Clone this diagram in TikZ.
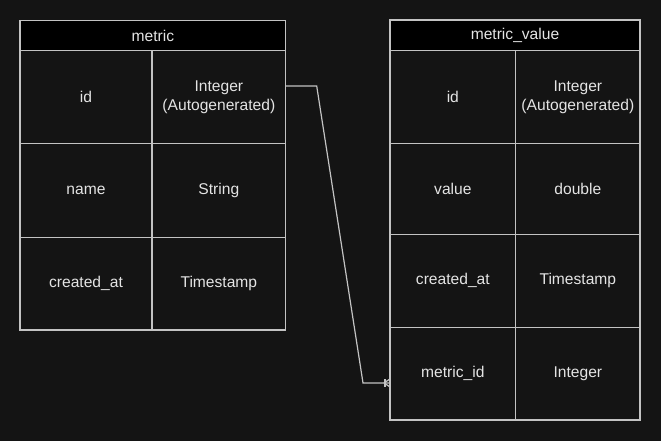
\documentclass[tikz,border=0pt]{standalone}
\usepackage{fontspec}
\setmainfont{Liberation Sans}
\definecolor{bg}{RGB}{20,20,20}
\definecolor{ln}{RGB}{195,195,195}
\definecolor{tx}{RGB}{228,228,228}
\tikzset{
  cell/.style={draw=ln, line width=1.2pt, fill=bg, text=tx,
    font=\fontsize{15.6}{19}\selectfont, align=center,
    inner sep=0pt, outer sep=0pt},
  head/.style={cell, fill=black},
  conn/.style={draw=ln, line width=1.2pt}
}
\begin{document}
\begin{tikzpicture}[x=1pt,y=-1pt]
\fill[bg] (0,0) rectangle (661,441);
\useasboundingbox (0,0) rectangle (661,441);
% left table: metric
\node[head, minimum width=265.7pt, minimum height=30pt] (lh) at (152.85,35.7) {metric};
\node[cell, minimum width=132pt, minimum height=92.6pt] (l1a) at (86,97) {id};
\node[cell, minimum width=133.7pt, minimum height=92.6pt] (l1b) at (218.85,97) {Integer\\(Autogenerated)};
\node[cell, minimum width=132pt, minimum height=94pt] (l2a) at (86,190.3) {name};
\node[cell, minimum width=133.7pt, minimum height=94pt] (l2b) at (218.85,190.3) {String};
\node[cell, minimum width=132pt, minimum height=92.7pt] (l3a) at (86,283.65) {created\_at};
\node[cell, minimum width=133.7pt, minimum height=92.7pt] (l3b) at (218.85,283.65) {Timestamp};
% right table: metric_value
\node[head, minimum width=250pt, minimum height=30.7pt] (rh) at (515,35.35) {metric\_value};
\node[cell, minimum width=125.7pt, minimum height=92.6pt] (r1a) at (452.85,97) {id};
\node[cell, minimum width=124.3pt, minimum height=92.6pt] (r1b) at (577.85,97) {Integer\\(Autogenerated)};
\node[cell, minimum width=125.7pt, minimum height=91pt] (r2a) at (452.85,188.8) {value};
\node[cell, minimum width=124.3pt, minimum height=91pt] (r2b) at (577.85,188.8) {double};
\node[cell, minimum width=125.7pt, minimum height=93pt] (r3a) at (452.85,280.8) {created\_at};
\node[cell, minimum width=124.3pt, minimum height=93pt] (r3b) at (577.85,280.8) {Timestamp};
\node[cell, minimum width=125.7pt, minimum height=92.7pt] (r4a) at (452.85,373.65) {metric\_id};
\node[cell, minimum width=124.3pt, minimum height=92.7pt] (r4b) at (577.85,373.65) {Integer};
% connector
\coordinate (cs) at ([yshift=11pt]l1b.east);
\coordinate (ce) at ([yshift=-9.3pt]r4a.west);
\draw[conn] (cs) -- ++(31,0) -- ([xshift=-27pt]ce) -- (ce);
% crow's foot (many, mandatory)
\draw[conn] ([xshift=-6pt]ce) -- ([yshift=4pt]ce);
\draw[conn] ([xshift=-6pt]ce) -- ([yshift=-4pt]ce);
\draw[conn] ([xshift=-5pt,yshift=4pt]ce) -- ([xshift=-5pt,yshift=-4pt]ce);
\end{tikzpicture}
\end{document}
